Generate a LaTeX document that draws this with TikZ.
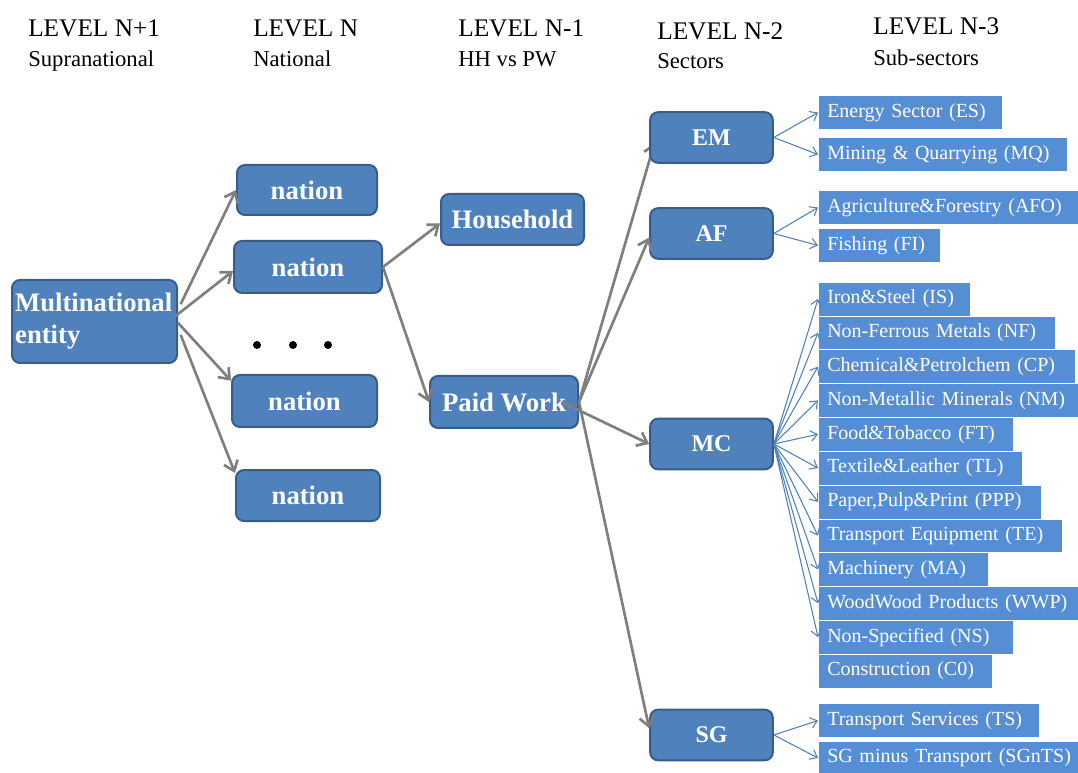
\documentclass[tikz,border=0pt]{standalone}
\usepackage{fontspec}
\setmainfont{Liberation Serif}
\usetikzlibrary{positioning,arrows.meta,backgrounds}

\definecolor{boxblue}{HTML}{4F81BD}
\definecolor{boxedge}{HTML}{385D8A}
\definecolor{subblue}{HTML}{558ED5}
\definecolor{linkgray}{HTML}{7F7F7F}

\tikzset{
  unitbox/.style={draw=boxedge, line width=1.5pt, fill=boxblue, rounded corners=6pt,
    text=white, font=\fontsize{20}{24}\selectfont\bfseries, inner sep=2pt},
  sectorbox/.style={unitbox, font=\fontsize{18}{20}\selectfont\bfseries,
    minimum width=92pt, minimum height=38pt},
  subbox/.style={anchor=west, fill=subblue, draw=white, line width=0.4pt, text=white,
    font=\fontsize{15}{17}\selectfont, minimum height=25.4pt, inner xsep=6.75pt,
    inner ysep=0pt, text width=#1, align=left},
  hdr/.style={anchor=base west, inner sep=0pt, font=\fontsize{19}{21}\selectfont},
  hdrsub/.style={anchor=base west, inner sep=0pt, font=\fontsize{17}{19}\selectfont},
  link/.style={draw=linkgray, line width=2pt, -{Straight Barb[length=7pt,width=11pt]}},
  sublink/.style={draw=boxblue, line width=0.8pt, -{Straight Barb[length=5pt,width=8pt]}}
}

\begin{document}
\begin{tikzpicture}[x=0.75pt, y=-0.75pt]
  \useasboundingbox (0,0) rectangle (1078,773);

  % level headers
  \node[hdr] (lvlA) at (28,37) {LEVEL N+1};
  \node[hdrsub] (lvlAsub) at (28,67) {Supranational};
  \node[hdr] (lvlB) at (253,37) {LEVEL N};
  \node[hdrsub] (lvlBsub) at (253,67) {National};
  \node[hdr] (lvlC) at (458,37) {LEVEL N-1};
  \node[hdrsub] (lvlCsub) at (458,67) {HH vs PW};
  \node[hdr] (lvlD) at (657,40) {LEVEL N-2};
  \node[hdrsub] (lvlDsub) at (657,69) {Sectors};
  \node[hdr] (lvlE) at (873,35) {LEVEL N-3};
  \node[hdrsub] (lvlEsub) at (873,66) {Sub-sectors};

  % supranational and national
  \node[unitbox, minimum width=123.75pt, minimum height=62.25pt, text width=119pt,
    align=left] (multi) at (94.5,321.5) {Multinational\\entity};
  \node[unitbox, minimum width=105pt, minimum height=37.5pt] (nationA) at (307,190) {nation};
  \node[unitbox, minimum width=111pt, minimum height=39pt] (nationB) at (308,267) {nation};
  \node[unitbox, minimum width=108.75pt, minimum height=39pt] (nationC) at (304.5,401) {nation};
  \node[unitbox, minimum width=108pt, minimum height=38.25pt] (nationD) at (308,495.5) {nation};
  \foreach \x in {257,293,328}
    \fill (\x,345) circle (3pt);

  % household vs paid work
  \node[unitbox, minimum width=107.25pt, minimum height=38.25pt] (house) at (512.5,219.5) {Household};
  \node[unitbox, minimum width=111pt, minimum height=39pt] (paid) at (504,402) {Paid Work};

  % sectors
  \node[sectorbox] (em) at (711.5,137.5) {EM};
  \node[sectorbox] (af) at (711.5,233.5) {AF};
  \node[sectorbox] (mc) at (711.5,444) {MC};
  \node[sectorbox] (sg) at (711.5,735) {SG};

  % sub-sectors
  \node[subbox=124.5pt] (es) at (818,112.5) {Energy Sector (ES)};
  \node[subbox=173.25pt] (mq) at (818,154.5) {Mining \& Quarrying (MQ)};
  \node[subbox=185pt] (afo) at (818,207.5) {Agriculture\&Forestry (AFO)};
  \node[subbox=78pt] (fi) at (818,245.5) {Fishing (FI)};
  \foreach \name/\txt/\w [count=\i] in {
      is/{Iron\&Steel (IS)}/100.5pt,
      nf/{Non-Ferrous Metals (NF)}/164.25pt,
      cp/{Chemical\&Petrolchem (CP)}/179.25pt,
      nm/{Non-Metallic Minerals (NM)}/185pt,
      ft/{Food\&Tobacco (FT)}/132.75pt,
      tl/{Textile\&Leather (TL)}/139.5pt,
      ppp/{Paper,Pulp\&Print (PPP)}/153.75pt,
      te/{Transport Equipment (TE)}/169.5pt,
      ma/{Machinery (MA)}/114pt,
      wwp/{WoodWood Products (WWP)}/185pt,
      ns/{Non-Specified (NS)}/132.75pt,
      co/{Construction (C0)}/117pt}
    \node[subbox=\w] (\name) at (818,{282+33.83*(\i-0.5)}) {\txt};
  \node[subbox=152.25pt] (ts) at (818,720.5) {Transport Services (TS)};
  \node[subbox=200pt] (sgnts) at (818,758) {SG minus Transport (SGnTS)};

  % gray links
  \draw[link] ([yshift=13pt,xshift=2pt]multi.east) -- (nationA.west);
  \draw[link] ([yshift=4pt,xshift=-2pt]multi.east) -- ([yshift=-3pt]nationB.west);
  \draw[link] ([yshift=-1pt]multi.east) -- ([yshift=-5pt]nationC.north west);
  \draw[link] ([yshift=-10pt,xshift=2pt]multi.east) -- ([yshift=-3pt]nationD.north west);
  \draw[link] (nationB.east) -- ([yshift=-3pt]house.west);
  \draw[link] (nationB.east) -- (paid.west);
  \begin{scope}[on background layer]
    \draw[link] (paid.east) -- ([xshift=4pt,yshift=-4pt]em.west);
  \end{scope}
  \draw[link] (paid.east) -- ([yshift=-3pt]af.west);
  \draw[link] ([xshift=-13pt]paid.east) -- (mc.west);
  \draw[link] (paid.east) -- ([yshift=5pt]sg.west);

  % blue links
  \foreach \to in {es,mq}
    \draw[sublink] (em.east) -- (\to.west);
  \foreach \to in {afo,fi}
    \draw[sublink] (af.east) -- (\to.west);
  \foreach \to in {is,nf,cp,nm,ft,tl,ppp,te,ma,wwp,ns}
    \draw[sublink] (mc.east) -- (\to.west);
  \foreach \to in {ts,sgnts}
    \draw[sublink] (sg.east) -- (\to.west);
\end{tikzpicture}
\end{document}
